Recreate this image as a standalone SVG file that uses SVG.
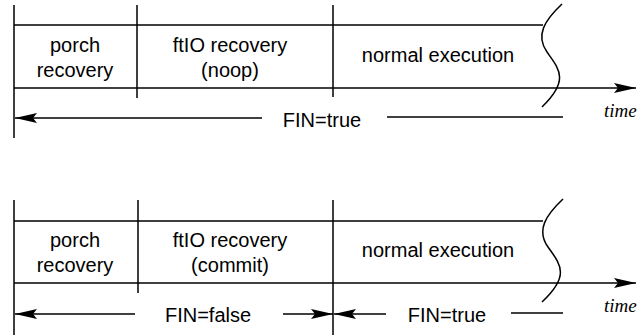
<svg xmlns="http://www.w3.org/2000/svg" width="638" height="335" viewBox="0 0 638 335">
<style>
.ln{stroke:#000;stroke-width:1.5;fill:none}
.t{font-family:"Liberation Sans",Arial,sans-serif;font-size:20px;fill:#000;text-anchor:middle}
.tm{font-family:"Liberation Serif","Times New Roman",serif;font-style:italic;font-size:19px;fill:#000}
</style>
<defs>
<marker id="ah" markerUnits="userSpaceOnUse" markerWidth="24" markerHeight="12" viewBox="0 -6 24 12" refX="22" refY="0" orient="auto">
<path d="M0,-5 L22,0 L0,5 L4,0 z" fill="#000"/>
</marker>
</defs>
<rect width="638" height="335" fill="#fff"/>

<!-- top timeline -->
<g id="top-frame">
<path class="ln" d="M14,5 V138 M137,5 V98 M333,5 V97 M14,25 H543"/>
<path class="ln" d="M562,4 C545,20 535,35 547,52 S570,80 542,107"/>
</g>
<g id="top-porch"><text class="t" x="75" y="52">porch</text><text class="t" x="75" y="77">recovery</text></g>
<g id="top-ftio"><text class="t" x="230" y="52">ftIO recovery</text><text class="t" x="230" y="77">(noop)</text></g>
<g id="top-normal"><text class="t" x="438" y="62">normal execution</text></g>
<g id="top-fin"><text class="t" x="322" y="127">FIN=true</text></g>
<g id="top-time"><text class="tm" x="604" y="117">time</text></g>

<!-- bottom timeline -->
<g id="bot-frame">
<path class="ln" d="M14,200 V335 M138,200 V293 M333,200 V335 M14,221 H543"/>
<path class="ln" d="M563,199 C546,215 536,230 548,247 S571,275 542,302"/>
</g>
<g id="bot-porch"><text class="t" x="75" y="247">porch</text><text class="t" x="75" y="272">recovery</text></g>
<g id="bot-ftio"><text class="t" x="230" y="247">ftIO recovery</text><text class="t" x="230" y="272">(commit)</text></g>
<g id="bot-normal"><text class="t" x="438" y="257">normal execution</text></g>
<g id="bot-finfalse"><text class="t" x="208" y="322">FIN=false</text></g>
<g id="bot-fintrue"><text class="t" x="447" y="322">FIN=true</text></g>
<g id="bot-time"><text class="tm" x="604" y="312">time</text></g>

<g id="connectors">
<line class="ln" x1="14" y1="88" x2="636" y2="88" marker-end="url(#ah)"/>
<line class="ln" x1="262" y1="118" x2="15" y2="118" marker-end="url(#ah)"/>
<line class="ln" x1="387" y1="117" x2="563" y2="117"/>
<line class="ln" x1="14" y1="283" x2="636" y2="283" marker-end="url(#ah)"/>
<line class="ln" x1="135" y1="314" x2="15" y2="314" marker-end="url(#ah)"/>
<line class="ln" x1="283" y1="314" x2="333" y2="314" marker-end="url(#ah)"/>
<line class="ln" x1="386" y1="314" x2="334" y2="314" marker-end="url(#ah)"/>
<line class="ln" x1="511" y1="313" x2="563" y2="313"/>
</g>
</svg>
